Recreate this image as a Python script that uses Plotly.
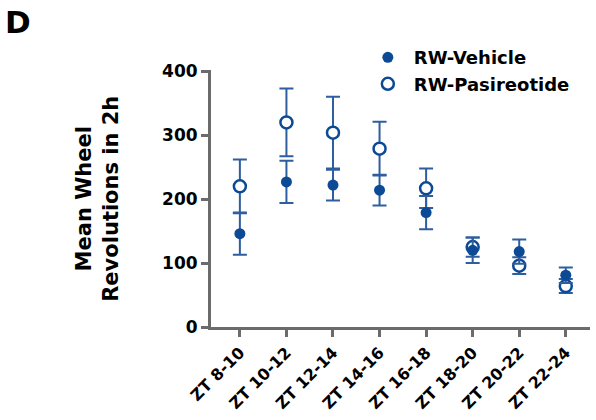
import plotly.graph_objects as go

categories = ["ZT 8-10", "ZT 10-12", "ZT 12-14", "ZT 14-16", "ZT 16-18", "ZT 18-20", "ZT 20-22", "ZT 22-24"]
vehicle_mean = [146, 227, 222, 214, 179, 120, 118, 81]
vehicle_err = [33, 33, 24, 24, 26, 20, 19, 12]
pasireotide_mean = [220, 320, 304, 279, 217, 125, 96, 64]
pasireotide_err = [42, 53, 56, 42, 31, 15, 13, 11]

blue = "#0C4A96"
err_blue = "#2F5E9E"
font = "DejaVu Sans, Arial, sans-serif"

fig = go.Figure()
fig.add_trace(go.Scatter(
    x=categories, y=pasireotide_mean, mode="markers", name="RW-Pasireotide",
    legendrank=2,
    marker=dict(symbol="circle", size=12, color="white", line=dict(color=blue, width=2.5)),
    error_y=dict(type="data", array=pasireotide_err, color=err_blue, thickness=2, width=7),
))
fig.add_trace(go.Scatter(
    x=categories, y=vehicle_mean, mode="markers", name="RW-Vehicle",
    legendrank=1,
    marker=dict(symbol="circle", size=11, color=blue),
    error_y=dict(type="data", array=vehicle_err, color=err_blue, thickness=2, width=7),
))

fig.update_layout(
    width=596, height=420,
    margin=dict(l=211, r=6, t=70, b=93),
    paper_bgcolor="white", plot_bgcolor="white",
    font=dict(family=font, size=17, color="black"),
    showlegend=True,
    legend=dict(x=0.398, y=1.12, xanchor="left", yanchor="top",
                font=dict(family=font, size=18, color="black", weight="bold"),
                bgcolor="rgba(0,0,0,0)", itemwidth=42, tracegroupgap=0),
    xaxis=dict(
        type="category", range=[-0.62, 7.52],
        showline=True, linecolor="#6B6B6B", linewidth=3,
        ticks="outside", ticklen=7, tickwidth=3, tickcolor="#6B6B6B",
        tickangle=-45, showgrid=False, zeroline=False,
        tickfont=dict(family=font, size=16, color="black", weight="bold"),
    ),
    yaxis=dict(
        range=[0, 402], tickvals=[0, 100, 200, 300, 400],
        showline=True, linecolor="#6B6B6B", linewidth=3,
        ticks="outside", ticklen=7, tickwidth=3, tickcolor="#6B6B6B",
        showgrid=False, zeroline=False,
        tickfont=dict(family=font, size=17, color="black", weight="bold"),
    ),
    annotations=[
        dict(text="Mean Wheel<br>Revolutions in 2h", xref="paper", yref="paper",
             x=-0.3, y=0.5, xanchor="center", yanchor="middle", textangle=-90,
             showarrow=False, font=dict(family=font, size=21, color="black", weight="bold")),
        dict(text="D", xref="paper", yref="paper", x=-0.548, y=1.265,
             xanchor="left", yanchor="top", showarrow=False,
             font=dict(family=font, size=31, color="black", weight="bold")),
    ],
)

fig.write_html("out.html")
